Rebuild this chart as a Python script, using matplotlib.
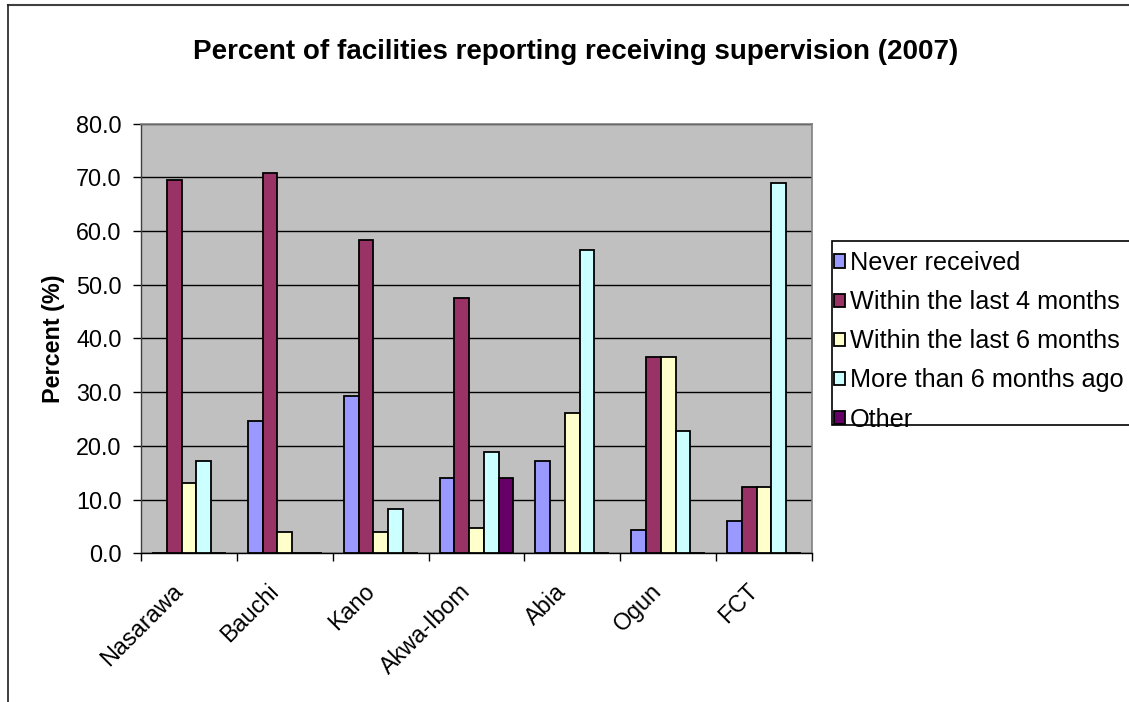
import matplotlib
matplotlib.use("Agg")
import matplotlib.pyplot as plt
from matplotlib.patches import Rectangle
from matplotlib.lines import Line2D
from matplotlib.transforms import ScaledTranslation
import numpy as np

plt.rcParams['font.family'] = ['Liberation Sans', 'DejaVu Sans']

states = ["Nasarawa", "Bauchi", "Kano", "Akwa-Ibom", "Abia", "Ogun", "FCT"]
never_received = [0.0, 24.7, 29.3, 14.1, 17.2, 4.4, 6.1]
within_4_months = [69.6, 70.8, 58.3, 47.6, 0.0, 36.5, 12.3]
within_6_months = [13.0, 4.0, 4.0, 4.8, 26.2, 36.5, 12.3]
more_than_6_months = [17.2, 0.0, 8.2, 18.9, 56.5, 22.7, 69.0]
other = [0.0, 0.0, 0.0, 14.1, 0.0, 0.0, 0.0]

series_labels = ["Never received", "Within the last 4 months",
                 "Within the last 6 months", "More than 6 months ago", "Other"]
series_values = [never_received, within_4_months, within_6_months,
                 more_than_6_months, other]
series_colors = ["#9999FF", "#993366", "#FFFFCC", "#CCFFFF", "#660066"]

y_ticks = [0, 10, 20, 30, 40, 50, 60, 70, 80]

W, H = 1129, 702
fig = plt.figure(figsize=(W / 100, H / 100), dpi=100)
fig.patch.set_facecolor("white")

# chart-area border (top and left edges)
fig.add_artist(Line2D([8 / W, 1.0], [1 - 5 / H, 1 - 5 / H], transform=fig.transFigure,
                      color="#404040", lw=1.5))
fig.add_artist(Line2D([8 / W, 8 / W], [0.0, 1 - 5 / H], transform=fig.transFigure,
                      color="#202020", lw=1.2))

ax = fig.add_axes([141 / W, 1 - 553.3 / H, 671 / W, 429.6 / H])
ax.set_facecolor("#C0C0C0")

n = len(series_values)
x = np.arange(len(states))
bw = 1.0 / (n + 1.5)
handles = []
for i, (vals, col, lab) in enumerate(zip(series_values, series_colors, series_labels)):
    offs = (i - (n - 1) / 2) * bw
    b = ax.bar(x + offs, vals, width=bw, color=col, edgecolor="black",
               linewidth=1.3, label=lab, zorder=3)
    handles.append(b)

ax.set_xlim(-0.5, len(states) - 0.5)
ax.set_ylim(0, 80)
ax.set_yticks(y_ticks)
ax.set_yticklabels([f"{v:.1f}" for v in y_ticks], fontsize=16.8)
ax.yaxis.grid(True, color="black", linewidth=1.0, zorder=1)
ax.set_axisbelow(True)

ax.set_xticks(x)
ax.set_xticklabels(states, fontsize=16.8, rotation=45, ha="right",
                   rotation_mode="anchor")
ax.set_xticks(np.arange(len(states) + 1) - 0.5, minor=True)
ax.tick_params(axis="x", which="major", length=0, pad=19)
ax.tick_params(axis="x", which="minor", length=6, width=1.0, direction="out")
ax.tick_params(axis="y", length=6, width=1.0, direction="out", pad=8)

# shift rotated category labels so their ends sit left of the category centre
shift = ScaledTranslation(-18 / 100, 0, fig.dpi_scale_trans)
for lbl in ax.get_xticklabels():
    lbl.set_transform(lbl.get_transform() + shift)

for s in ["top", "right"]:
    ax.spines[s].set_color("#808080")
    ax.spines[s].set_linewidth(1.2)
ax.spines["left"].set_color("#404040")
ax.spines["bottom"].set_color("black")
ax.spines["left"].set_linewidth(1.0)
ax.spines["bottom"].set_linewidth(1.0)

ax.set_ylabel("Percent (%)", fontsize=16.8, fontweight="bold", labelpad=8)

fig.text(576 / W, 1 - 52 / H, "Percent of facilities reporting receiving supervision (2007)",
         fontsize=20, fontweight="bold", ha="center", va="center")

# legend box
fig.add_artist(Rectangle((832 / W, 1 - 425 / H), (W + 10 - 832) / W, (425 - 241) / H,
                         transform=fig.transFigure, facecolor="white",
                         edgecolor="black", lw=1.2, clip_on=False))
leg = fig.legend(handles=handles, labels=series_labels, loc="upper left",
                 bbox_to_anchor=(834 / W, 1 - 251 / H), frameon=False,
                 fontsize=18.2, handlelength=0.42, handleheight=0.42,
                 handletextpad=0.2, labelspacing=0.6, borderaxespad=0,
                 borderpad=0)
for p in leg.get_patches():
    p.set_linewidth(1.3)

fig.savefig("out.png", dpi=100)
